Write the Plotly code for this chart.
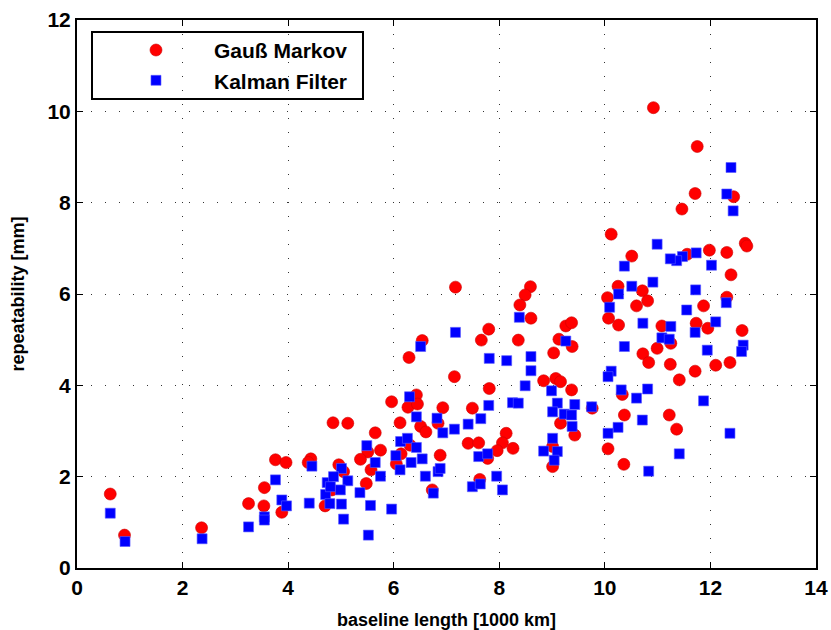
import plotly.graph_objects as go

# Gauß Markov (red circles)
gm_x = [0.63, 0.90, 2.36, 3.25, 3.55, 3.54, 3.76, 3.96, 3.88, 4.43, 4.38, 4.70, 4.85,
        7.17, 8.59, 8.49, 8.39, 8.60, 7.80, 7.66, 8.36, 6.54, 6.29, 7.15, 7.81, 8.84,
        6.43, 5.96, 6.27, 6.45, 6.93, 7.49, 5.13, 6.12, 6.51, 6.61, 6.84, 5.65, 8.13,
        7.41, 7.61, 8.06, 7.96, 8.26, 7.78, 5.75, 5.51, 5.37, 6.14, 6.88, 6.31, 6.05,
        5.57, 5.05, 4.96, 5.48, 7.63, 6.73, 4.83,
        10.92, 11.75, 11.71, 12.44, 11.46, 10.12, 10.51, 11.56, 11.98, 12.31, 12.66,
        12.69, 12.39, 10.25, 10.71, 10.81, 10.05, 10.60, 11.87, 12.31,
        10.07, 10.26, 11.08, 11.73, 11.95, 12.60, 9.26, 9.37, 9.13, 9.38, 9.03, 10.99,
        11.25, 10.72, 10.83, 11.24, 11.71, 12.10, 12.37, 11.41, 9.07, 9.16, 9.37,
        10.33, 9.76, 10.37, 11.22, 11.36, 9.16, 9.43, 9.01, 10.06, 10.36, 9.01]
gm_y = [1.62, 0.72, 0.88, 1.41, 1.76, 1.36, 2.37, 2.31, 1.22, 2.39, 2.31, 1.36, 3.18,
        6.15, 6.16, 5.98, 5.76, 5.47, 5.23, 4.99, 4.99, 4.98, 4.61, 4.19, 3.93, 4.10,
        3.79, 3.64, 3.52, 3.59, 3.51, 3.50, 3.17, 3.18, 3.10, 2.98, 3.17, 2.96, 2.95,
        2.73, 2.74, 2.74, 2.57, 2.62, 2.40, 2.58, 2.54, 2.38, 2.50, 2.47, 2.69, 2.28,
        2.15, 2.11, 2.26, 1.85, 1.94, 1.71, 1.71,
        10.08, 9.23, 8.20, 8.13, 7.86, 7.31, 6.83, 6.87, 6.96, 6.91, 7.11,
        7.05, 6.42, 6.17, 6.07, 5.85, 5.92, 5.74, 5.74, 5.93,
        5.47, 5.32, 5.30, 5.36, 5.25, 5.20, 5.30, 5.37, 5.01, 4.85, 4.71, 4.81,
        4.92, 4.69, 4.50, 4.46, 4.31, 4.44, 4.50, 4.12, 4.15, 4.08, 3.90,
        3.80, 3.50, 3.35, 3.35, 3.04, 3.17, 2.91, 2.66, 2.61, 2.27, 2.22]

# Kalman Filter (blue squares)
kf_x = [0.63, 0.91, 2.37, 3.25, 3.55, 3.55, 3.76, 3.88, 3.97, 4.40, 4.45, 4.71, 4.74, 4.79,
        7.17, 6.51, 8.38, 7.81, 8.14, 8.60, 8.60, 8.49, 8.99, 9.10, 9.01, 6.30, 7.80,
        8.25, 8.36, 6.43, 6.82, 7.65, 7.41, 7.15, 6.93, 6.13, 6.26, 6.43, 5.49, 6.04,
        5.65, 6.33, 6.54, 7.61, 7.78, 8.84, 9.01, 9.10, 9.04, 6.12, 5.75, 5.01, 5.13,
        4.86, 4.99, 4.80, 6.60, 6.84, 6.88, 7.95, 7.49, 7.64, 8.06, 6.75, 5.36, 5.56,
        5.96, 5.01, 5.52, 5.05,
        12.39, 12.31, 12.43, 10.99, 11.73, 11.47, 11.36, 11.24, 10.37, 12.02, 10.91,
        10.51, 10.26, 11.72, 12.30, 10.09, 11.55,
        12.10, 10.72, 11.25, 11.71, 11.08, 11.22, 9.26, 10.37, 11.94, 12.62, 12.59,
        10.12, 10.06, 10.31, 10.81, 10.60, 11.87, 9.43, 9.75, 9.23, 9.37, 9.38, 10.71,
        10.25, 10.06, 12.37, 11.41, 10.83]
kf_y = [1.20, 0.58, 0.64, 0.90, 1.12, 1.05, 1.93, 1.49, 1.36, 1.42, 2.23, 1.61, 1.87, 1.41,
        5.16, 4.85, 5.49, 4.59, 4.54, 4.63, 4.32, 3.99, 3.88, 3.61, 3.42, 3.75, 3.56,
        3.62, 3.61, 3.31, 3.28, 3.27, 3.15, 3.04, 2.96, 2.77, 2.84, 2.64, 2.68, 2.46,
        2.31, 2.31, 2.39, 2.44, 2.50, 2.56, 2.84, 2.55, 2.36, 2.15, 2.01, 2.18, 1.91,
        2.00, 1.71, 1.78, 2.01, 2.11, 2.18, 2.01, 1.78, 1.84, 1.71, 1.64, 1.65, 1.37,
        1.29, 1.40, 0.72, 1.07,
        8.77, 8.19, 7.82, 7.09, 6.90, 6.82, 6.73, 6.77, 6.61, 6.63, 6.26,
        6.17, 6.00, 6.09, 5.81, 5.71, 5.65,
        5.39, 5.36, 5.29, 5.16, 5.04, 5.01, 4.97, 4.85, 4.77, 4.88, 4.74,
        4.31, 4.19, 3.90, 3.92, 3.72, 3.66, 3.58, 3.53, 3.37, 3.35, 3.10, 3.24,
        3.08, 2.95, 2.95, 2.50, 2.12]

x_ticks = [0, 2, 4, 6, 8, 10, 12, 14]
y_ticks = [0, 2, 4, 6, 8, 10, 12]

FONT = "Liberation Sans, Arial, Helvetica, sans-serif"

fig = go.Figure()
fig.add_trace(go.Scatter(
    x=gm_x, y=gm_y, mode="markers", name="Gauß Markov",
    marker=dict(symbol="circle", size=12, color="#ff0000",
                line=dict(color="#cc0000", width=0.6)),
))
fig.add_trace(go.Scatter(
    x=kf_x, y=kf_y, mode="markers", name="Kalman Filter",
    marker=dict(symbol="square", size=10, color="#0000ff",
                line=dict(color="#5a5aff", width=0.6)),
))

axis_common = dict(
    showline=True, linecolor="black", linewidth=2, mirror="allticks",
    ticks="inside", ticklen=6, tickwidth=1, tickcolor="black",
    showgrid=True, gridcolor="rgba(0,0,0,0.8)", gridwidth=1, griddash="1px,13px",
    zeroline=False, automargin=False,
    tickfont=dict(family=FONT, size=21, color="black", weight="bold"),
)

fig.update_xaxes(
    range=[0, 14], tickvals=x_ticks, ticktext=[str(v) for v in x_ticks],
    title=dict(text="<b>baseline length [1000 km]</b>",
               font=dict(family=FONT, size=18, color="black"), standoff=17),
    **axis_common,
)
fig.update_yaxes(
    range=[0, 12], tickvals=y_ticks, ticktext=[str(v) for v in y_ticks],
    title=dict(text="<b>repeatability [mm]</b>",
               font=dict(family=FONT, size=18, color="black"), standoff=18),
    **axis_common,
)

# legend frame (opaque, above the grid, below the markers)
fig.add_shape(
    type="rect", xref="paper", yref="paper",
    x0=0.0203, x1=0.387, y0=0.8558, y1=0.978,
    line=dict(color="black", width=2), fillcolor="white", layer="between",
)

fig.update_layout(
    width=831, height=630,
    margin=dict(l=77, r=15, t=20, b=62, autoexpand=False),
    paper_bgcolor="white", plot_bgcolor="white",
    showlegend=True,
    legend=dict(
        x=0.0284, y=0.982, xanchor="left", yanchor="top",
        bgcolor="rgba(0,0,0,0)", borderwidth=0,
        font=dict(family=FONT, size=21, color="black", weight="bold"),
        itemwidth=106, tracegroupgap=0,
    ),
)

fig.write_html("out.html", config={"displayModeBar": False},
               post_script="document.body.style.margin='0';")
